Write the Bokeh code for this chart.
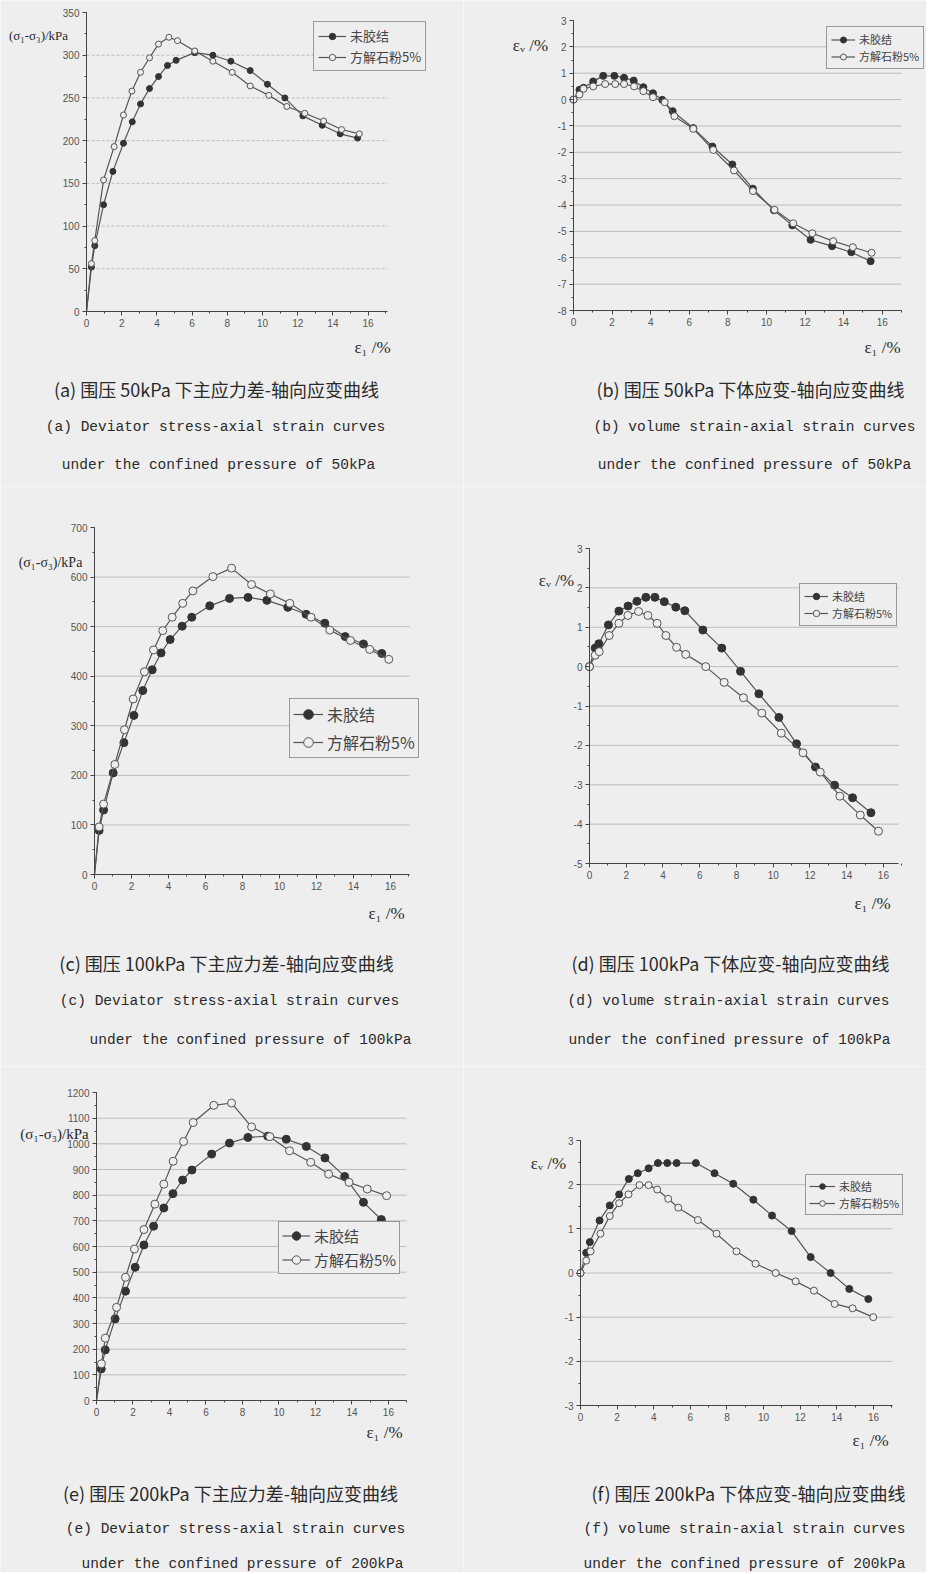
from bokeh.plotting import figure
from bokeh.models import FixedTicker, Label, Legend, LegendItem, Range1d
from bokeh.layouts import column, row
from bokeh.embed import file_html
from bokeh.resources import INLINE

# ---------------- data ----------------
series_names = ["未胶结", "方解石粉5%"]

a_x_unc = [0, 0.28, 0.47, 0.97, 1.5, 2.1, 2.6, 3.07, 3.58, 4.09, 4.6, 5.09, 6.15, 7.18, 8.2, 9.3, 10.28, 11.27, 12.29, 13.39, 14.41, 15.4]
a_y_unc = [0, 52, 77, 125, 164, 197, 222, 243, 261, 275, 288, 294, 303, 300, 293, 282, 266, 250, 229, 218, 208, 203]
a_x_cal = [0, 0.28, 0.47, 0.97, 1.57, 2.1, 2.58, 3.07, 3.58, 4.09, 4.68, 5.17, 6.15, 7.18, 8.28, 9.3, 10.36, 11.38, 12.4, 13.47, 14.49, 15.5]
a_y_cal = [0, 56, 83, 154, 193, 230, 258, 280, 297, 313, 321, 317, 305, 293, 280, 264, 253, 240, 232, 223, 213, 208]

b_x_unc = [0, 0.31, 0.52, 1.02, 1.54, 2.12, 2.62, 3.12, 3.62, 4.12, 4.6, 5.14, 6.21, 7.2, 8.23, 9.3, 10.39, 11.34, 12.29, 13.4, 14.4, 15.4]
b_y_unc = [0, 0.37, 0.45, 0.69, 0.90, 0.90, 0.83, 0.72, 0.47, 0.24, -0.01, -0.44, -1.08, -1.78, -2.46, -3.38, -4.20, -4.77, -5.32, -5.56, -5.79, -6.13]
b_x_cal = [0, 0.31, 0.52, 1.02, 1.64, 2.16, 2.62, 3.14, 3.62, 4.12, 4.73, 5.23, 6.21, 7.24, 8.32, 9.3, 10.42, 11.39, 12.38, 13.46, 14.48, 15.45]
b_y_cal = [0, 0.19, 0.41, 0.50, 0.59, 0.59, 0.59, 0.50, 0.32, 0.09, -0.10, -0.63, -1.11, -1.91, -2.69, -3.47, -4.18, -4.69, -5.07, -5.37, -5.60, -5.81]

c_x_unc = [0, 0.25, 0.49, 1.01, 1.59, 2.13, 2.61, 3.12, 3.6, 4.09, 4.74, 5.26, 6.23, 7.3, 8.3, 9.32, 10.45, 11.44, 12.45, 13.55, 14.54, 15.53]
c_y_unc = [0, 89, 130, 205, 266, 321, 371, 413, 447, 474, 501, 519, 542, 557, 559, 553, 539, 525, 507, 480, 465, 446]
c_x_cal = [0, 0.25, 0.49, 1.1, 1.62, 2.09, 2.7, 3.19, 3.69, 4.2, 4.77, 5.32, 6.4, 7.41, 8.49, 9.51, 10.56, 11.71, 12.72, 13.84, 14.88, 15.91]
c_y_cal = [0, 96, 142, 222, 292, 354, 409, 453, 492, 519, 547, 572, 601, 618, 585, 566, 547, 519, 493, 472, 454, 434]

d_x_unc = [0, 0.31, 0.51, 1.03, 1.6, 2.1, 2.58, 3.07, 3.56, 4.07, 4.7, 5.19, 6.17, 7.2, 8.22, 9.22, 10.31, 11.27, 12.3, 13.34, 14.32, 15.32]
d_y_unc = [0, 0.47, 0.58, 1.06, 1.41, 1.54, 1.66, 1.76, 1.76, 1.65, 1.51, 1.42, 0.93, 0.47, -0.12, -0.69, -1.29, -1.96, -2.55, -3.01, -3.33, -3.71]
d_x_cal = [0, 0.31, 0.53, 1.07, 1.6, 2.09, 2.67, 3.18, 3.68, 4.16, 4.74, 5.24, 6.33, 7.33, 8.38, 9.38, 10.44, 11.62, 12.56, 13.63, 14.74, 15.73]
d_y_cal = [0, 0.29, 0.38, 0.79, 1.10, 1.30, 1.40, 1.30, 1.10, 0.79, 0.49, 0.31, 0.00, -0.40, -0.79, -1.18, -1.69, -2.19, -2.68, -3.29, -3.77, -4.18]

e_x_unc = [0, 0.26, 0.48, 1.02, 1.59, 2.12, 2.6, 3.13, 3.69, 4.19, 4.72, 5.23, 6.31, 7.29, 8.3, 9.38, 10.4, 11.5, 12.52, 13.6, 14.63, 15.61]
e_y_unc = [0, 123, 197, 318, 426, 519, 606, 679, 750, 806, 859, 898, 960, 1003, 1025, 1030, 1018, 990, 945, 873, 772, 705]
e_x_cal = [0, 0.27, 0.48, 1.1, 1.59, 2.08, 2.6, 3.2, 3.69, 4.2, 4.77, 5.3, 6.43, 7.4, 8.5, 9.5, 10.58, 11.74, 12.72, 13.84, 14.84, 15.9]
e_y_cal = [0, 143, 243, 363, 480, 590, 666, 765, 843, 932, 1009, 1083, 1150, 1159, 1066, 1028, 973, 928, 882, 850, 824, 798]

f_x_unc = [0, 0.31, 0.51, 1.04, 1.6, 2.11, 2.64, 3.13, 3.72, 4.23, 4.74, 5.25, 6.3, 7.32, 8.34, 9.44, 10.46, 11.53, 12.57, 13.66, 14.68, 15.72]
f_y_unc = [0, 0.46, 0.70, 1.19, 1.53, 1.78, 2.13, 2.26, 2.37, 2.49, 2.49, 2.49, 2.49, 2.26, 2.02, 1.66, 1.30, 0.95, 0.36, 0.0, -0.36, -0.59]
f_x_cal = [0, 0.31, 0.55, 1.09, 1.6, 2.11, 2.62, 3.22, 3.72, 4.19, 4.79, 5.34, 6.41, 7.43, 8.52, 9.56, 10.66, 11.75, 12.75, 13.88, 14.86, 15.99]
f_y_cal = [0, 0.28, 0.49, 0.89, 1.29, 1.58, 1.78, 1.99, 1.99, 1.89, 1.68, 1.48, 1.20, 0.89, 0.49, 0.21, 0.0, -0.19, -0.40, -0.70, -0.80, -1.00]

x_ticks = [0, 2, 4, 6, 8, 10, 12, 14, 16]
a_y_ticks = [0, 50, 100, 150, 200, 250, 300, 350]
b_y_ticks = [-8, -7, -6, -5, -4, -3, -2, -1, 0, 1, 2, 3]
c_y_ticks = [0, 100, 200, 300, 400, 500, 600, 700]
d_y_ticks = [-5, -4, -3, -2, -1, 0, 1, 2, 3]
e_y_ticks = [0, 100, 200, 300, 400, 500, 600, 700, 800, 900, 1000, 1100, 1200]
f_y_ticks = [-3, -2, -1, 0, 1, 2, 3]

caps = {
    "a": ["(a) 围压 50kPa 下主应力差-轴向应变曲线", "(a) Deviator stress-axial strain curves", "under the confined pressure of 50kPa"],
    "b": ["(b) 围压 50kPa 下体应变-轴向应变曲线", "(b) volume strain-axial strain curves", "under the confined pressure of 50kPa"],
    "c": ["(c) 围压 100kPa 下主应力差-轴向应变曲线", "(c) Deviator stress-axial strain curves", "under the confined pressure of 100kPa"],
    "d": ["(d) 围压 100kPa 下体应变-轴向应变曲线", "(d) volume strain-axial strain curves", "under the confined pressure of 100kPa"],
    "e": ["(e) 围压 200kPa 下主应力差-轴向应变曲线", "(e) Deviator stress-axial strain curves", "under the confined pressure of 200kPa"],
    "f": ["(f) 围压 200kPa 下体应变-轴向应变曲线", "(f) volume strain-axial strain curves", "under the confined pressure of 200kPa"],
}
stress_label = "(σ₁-σ₃)/kPa"
vol_label = "εᵥ /%"
axial_label = "ε₁ /%"

# ---------------- style / layout ----------------
BG = "#eeeeee"
LINE = "#555555"
DARK = "#333333"
CJK = "Noto Sans CJK SC"
MONO = "Liberation Mono"
SERIF = "Liberation Serif"

# page-coordinate boxes: frame = (left, top, right, bottom) of the data area, cell = figure area
panels = [
    dict(key="a", xs=(a_x_unc, a_x_cal), ys=(a_y_unc, a_y_cal), yt=a_y_ticks, xmax=17.1,
         frame=(86, 12, 387, 311), cell=(0, 0, 463, 486), ylab=stress_label, ylab_pos=(38, 35, 13),
         xlab_pos=(372, 347), leg=(313, 71, 13, 28, 4, 16, 2), ms=6, origin_marker=False, dash=True,
         cap_pos=[(216, 388), (215, 426), (218, 464)]),
    dict(key="b", xs=(b_x_unc, b_x_cal), ys=(b_y_unc, b_y_cal), yt=b_y_ticks, xmax=17.0,
         frame=(573, 20, 901, 310), cell=(463, 0, 926, 486), ylab=vol_label, ylab_pos=(530, 45, 17),
         xlab_pos=(882, 347), leg=(826, 69, 11, 24, 4, 15, 1), ms=7, origin_marker=True, dash=False,
         cap_pos=[(750, 388), (754, 426), (754, 464)]),
    dict(key="c", xs=(c_x_unc, c_x_cal), ys=(c_y_unc, c_y_cal), yt=c_y_ticks, xmax=17.03,
         frame=(94, 527, 409, 874), cell=(0, 486, 463, 1066), ylab=stress_label, ylab_pos=(50, 562, 14),
         xlab_pos=(386, 913), leg=(289, 758, 16, 30, 3, 24, 4), ms=8, origin_marker=False, dash=False,
         cap_pos=[(226, 962), (229, 1000), (250, 1039)]),
    dict(key="d", xs=(d_x_unc, d_x_cal), ys=(d_y_unc, d_y_cal), yt=d_y_ticks, xmax=16.82,
         frame=(589, 548, 898, 863), cell=(463, 486, 926, 1066), ylab=vol_label, ylab_pos=(556, 580, 17),
         xlab_pos=(872, 903), leg=(799, 626, 11, 24, 4, 16, 1), ms=8, origin_marker=True, dash=False,
         cap_pos=[(730, 962), (728, 1000), (729, 1039)]),
    dict(key="e", xs=(e_x_unc, e_x_cal), ys=(e_y_unc, e_y_cal), yt=e_y_ticks, xmax=16.99,
         frame=(96, 1092, 406, 1400), cell=(0, 1066, 463, 1572), ylab=stress_label, ylab_pos=(54, 1133, 15),
         xlab_pos=(384, 1432), leg=(278, 1274, 15, 28, 3, 21, 3), ms=8, origin_marker=False, dash=False,
         cap_pos=[(230, 1492), (235, 1528), (242, 1563)]),
    dict(key="f", xs=(f_x_unc, f_x_cal), ys=(f_y_unc, f_y_cal), yt=f_y_ticks, xmax=17.04,
         frame=(580, 1140, 892, 1405), cell=(463, 1066, 926, 1572), ylab=vol_label, ylab_pos=(548, 1163, 17),
         xlab_pos=(870, 1440), leg=(805, 1215, 11, 26, 3, 14, 1), ms=7, origin_marker=True, dash=False,
         cap_pos=[(748, 1492), (744, 1528), (744, 1563)]),
]


def make_panel(cfg):
    L, T, R, B = cfg["frame"]
    cx0, cy0, cx1, cy1 = cfg["cell"]
    yt = cfg["yt"]
    ymin, ymax, xmax = yt[0], yt[-1], cfg["xmax"]
    sx = (R - L) / xmax
    sy = (B - T) / (ymax - ymin)
    p = figure(width=cx1 - cx0, height=cy1 - cy0,
               x_range=Range1d(-(L - cx0) / sx, xmax + (cx1 - R) / sx),
               y_range=Range1d(ymin - (cy1 - B) / sy, ymax + (T - cy0) / sy),
               min_border=0, min_border_left=0, min_border_right=0,
               min_border_top=0, min_border_bottom=0,
               output_backend="svg", toolbar_location=None,
               background_fill_color=BG, border_fill_color=BG, outline_line_color=None)
    step = yt[1] - yt[0]
    p.xaxis.ticker = FixedTicker(ticks=x_ticks, minor_ticks=list(range(0, 18)))
    p.yaxis.ticker = FixedTicker(ticks=yt, minor_ticks=[yt[0] + step * k / 2 for k in range(2 * len(yt) - 1)])
    p.yaxis.major_label_overrides = {v: str(v) for v in yt}
    p.xaxis.fixed_location = ymin
    p.yaxis.fixed_location = 0
    p.xaxis.bounds = (0, xmax)
    p.yaxis.bounds = (ymin, ymax)
    p.xgrid.visible = False
    p.ygrid.visible = False
    for ax in (p.xaxis[0], p.yaxis[0]):
        ax.axis_line_color = "#444444"
        ax.major_tick_line_color = "#444444"
        ax.minor_tick_line_color = "#444444"
        ax.major_tick_out = 4
        ax.major_tick_in = 0
        ax.minor_tick_out = 2
        ax.minor_tick_in = 0
        ax.major_label_text_font = "Liberation Sans"
        ax.major_label_text_font_size = "10px"
        ax.major_label_text_color = "#555555"
        ax.major_label_standoff = 3

    # horizontal grid lines at the inner major y ticks, spanning the data area
    g = yt[1:-1]
    p.segment(x0=[0] * len(g), y0=g, x1=[xmax] * len(g), y1=g, line_color="#bcbcbc",
              line_width=1, line_dash="3 2" if cfg["dash"] else "solid")

    ms = cfg["ms"]
    start = 0 if cfg["origin_marker"] else 1
    items = []
    for i, name in enumerate(series_names):
        xs, ys = cfg["xs"][i], cfg["ys"][i]
        ln = p.line(xs, ys, line_color=LINE, line_width=1.2)
        if i == 0:
            sc = p.scatter(xs[start:], ys[start:], marker="circle", size=ms,
                           fill_color=DARK, line_color=DARK, line_width=1)
        else:
            sc = p.scatter(xs[start:], ys[start:], marker="circle", size=ms,
                           fill_color=BG, line_color=LINE, line_width=1)
        items.append(LegendItem(label=name, renderers=[ln, sc]))

    lx, ly, fs, gw, pad, rh, sp = cfg["leg"]
    legend = Legend(items=items, location=(lx - cx0, cy1 - ly), margin=0, padding=pad,
                    spacing=sp, glyph_width=gw, glyph_height=rh, label_height=rh,
                    label_standoff=4, label_text_font=CJK, label_text_font_size=f"{fs}px",
                    label_text_color="#444444", border_line_color="#444444", border_line_width=1,
                    background_fill_color=BG, background_fill_alpha=1.0)
    p.add_layout(legend)

    def add_text(px, py, text, size, font):
        p.add_layout(Label(x=px - cx0, y=cy1 - py, x_units="screen", y_units="screen", text=text,
                           text_align="center", text_baseline="middle", text_font_size=f"{size}px",
                           text_font=font, text_color="#2a2a2a"))

    yx, yy, ys_ = cfg["ylab_pos"]
    add_text(yx, yy, cfg["ylab"], ys_, SERIF)
    add_text(cfg["xlab_pos"][0], cfg["xlab_pos"][1], axial_label, 17, SERIF)

    texts = caps[cfg["key"]]
    fonts = [(CJK, 18), (MONO, 14.5), (MONO, 14.5)]
    for (px, py), t, (fnt, fsz) in zip(cfg["cap_pos"], texts, fonts):
        add_text(px, py, t, fsz, fnt)
    return p


figs = [make_panel(c) for c in panels]
p = column(row(figs[0], figs[1]), row(figs[2], figs[3]), row(figs[4], figs[5]))

open("out.html", "w").write(file_html(p, INLINE))
